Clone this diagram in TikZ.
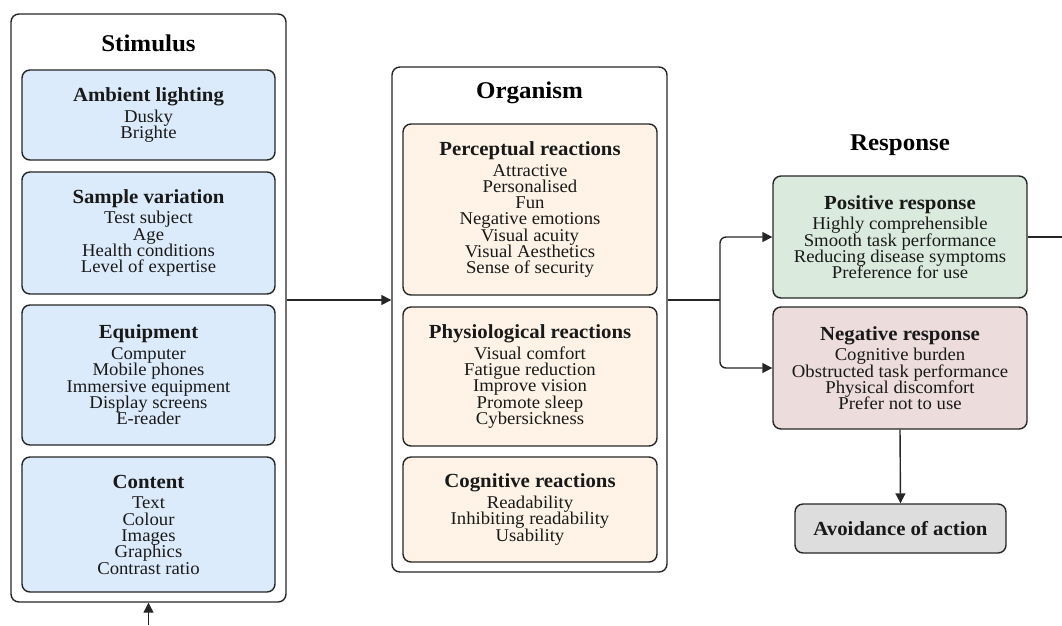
\documentclass[tikz,border=0pt]{standalone}
\usepackage{fontspec}
\setmainfont[FakeStretch=1.04]{Liberation Serif}
\usetikzlibrary{arrows.meta}
\definecolor{lc}{HTML}{262626}
\definecolor{bluef}{HTML}{DCEBFB}
\definecolor{peachf}{HTML}{FEF3E6}
\definecolor{greenf}{HTML}{DAEBDD}
\definecolor{pinkf}{HTML}{EDDCDC}
\definecolor{grayf}{HTML}{DDDDDD}
\newcommand{\itemfont}{\fontsize{18}{16.3}\selectfont\lineskiplimit=-30pt\relax}
\newcommand{\bt}[1]{{\fontsize{20}{16.3}\selectfont\bfseries #1}\\[4.5pt]}
\tikzset{
  outerbox/.style={draw=lc, fill=white, line width=1.4pt, rounded corners=8pt, minimum width=275pt, inner sep=0pt},
  innerbox/.style={draw=lc, line width=1.4pt, rounded corners=8pt, minimum width=253pt, align=center, font=\itemfont, inner sep=0pt, text=black!90},
  hdr/.style={font=\fontsize{24}{24}\selectfont\bfseries, inner sep=0pt},
  arr/.style={draw=lc, line width=1.4pt, -{Triangle[length=10pt,width=10pt]}},
  ln/.style={draw=lc, line width=1.4pt}
}
\begin{document}
\begin{tikzpicture}[x=1pt,y=-1pt]
\useasboundingbox (0,0) rectangle (1062,625);

% Stimulus
\node[outerbox, minimum height=588pt] (stim) at (148.5,308) {};
\node[hdr] (sth) at (148.5,43) {Stimulus};
\node[innerbox, fill=bluef, minimum height=90pt] (amb) at (148.5,115) {\bt{Ambient lighting}Dusky\\Brighte};
\node[innerbox, fill=bluef, minimum height=122pt] (samp) at (148.5,233) {\bt{Sample variation}Test subject\\Age\\Health conditions\\Level of expertise};
\node[innerbox, fill=bluef, minimum height=140pt] (equip) at (148.5,375) {\bt{Equipment}Computer\\Mobile phones\\Immersive equipment\\Display screens\\E-reader};
\node[innerbox, fill=bluef, minimum height=135pt] (cont) at (148.5,524.5) {\bt{Content}Text\\Colour\\Images\\Graphics\\Contrast ratio};

% Organism
\node[outerbox, minimum height=505pt] (org) at (529.5,319.5) {};
\node[hdr] (orgh) at (529.5,93) {Organism};
\node[innerbox, fill=peachf, minimum width=254pt, minimum height=171pt] (perc) at (530,209.5) {\bt{Perceptual reactions}Attractive\\Personalised\\Fun\\Negative emotions\\Visual acuity\\Visual Aesthetics\\Sense of security};
\node[innerbox, fill=peachf, minimum width=254pt, minimum height=139pt] (phys) at (530,376.5) {\bt{Physiological reactions}Visual comfort\\Fatigue reduction\\Improve vision\\Promote sleep\\Cybersickness};
\node[innerbox, fill=peachf, minimum width=254pt, minimum height=105pt] (cog) at (530,509.5) {\bt{Cognitive reactions}Readability\\Inhibiting readability\\Usability};

% Response
\node[hdr] (resh) at (900,145) {Response};
\node[innerbox, fill=greenf, minimum width=254pt, minimum height=122pt] (pos) at (900,237) {\bt{Positive response}Highly comprehensible\\Smooth task performance\\Reducing disease symptoms\\Preference for use};
\node[innerbox, fill=pinkf, minimum width=254pt, minimum height=122pt] (neg) at (900,368) {\bt{Negative response}Cognitive burden\\Obstructed task performance\\Physical discomfort\\Prefer not to use};
\node[innerbox, fill=grayf, minimum width=211pt, minimum height=49pt, font=\fontsize{20}{20}\selectfont\bfseries] (avoid) at (900.5,528.5) {Avoidance of action};

% connectors
\coordinate (mid) at (340,300);
\coordinate (split) at (720,300);
\coordinate (free) at (1062,237);
\coordinate (src) at (148.5,625);
\draw[arr] (stim.east |- mid) -- (org.west |- mid);
\draw[ln] (org.east |- mid) -- (split);
\draw[arr, rounded corners=6pt] (split) |- (pos.west);
\draw[arr, rounded corners=6pt] (split) |- (neg.west);
\draw[ln] (pos.east) -- (free);
\draw[arr] (neg.south) -- (avoid.north);
\draw[arr] (src) -- (stim.south);
\end{tikzpicture}
\end{document}
